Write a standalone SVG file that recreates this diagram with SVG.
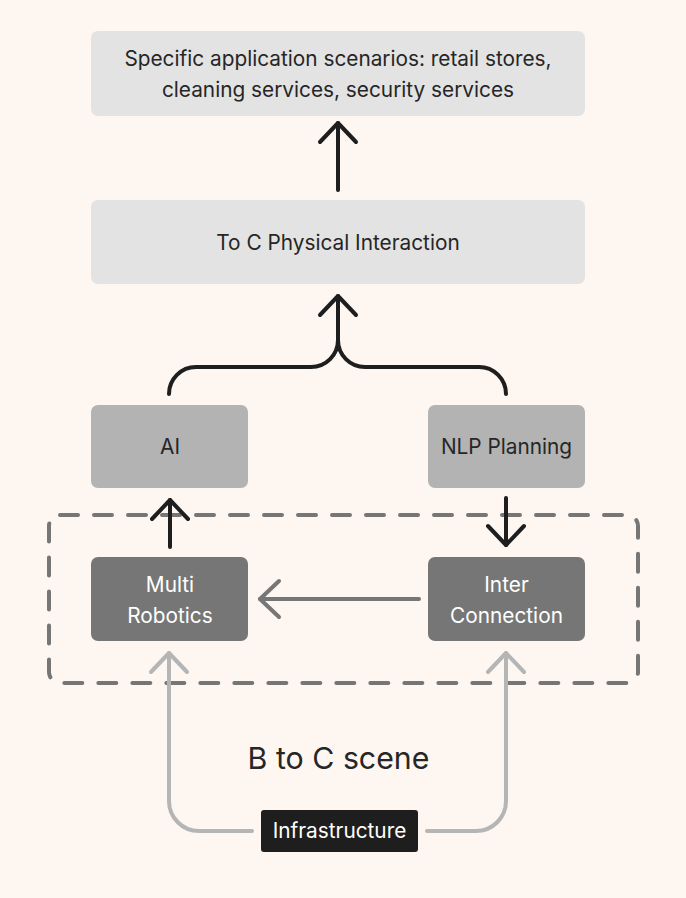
<svg xmlns="http://www.w3.org/2000/svg" width="686" height="898" viewBox="0 0 686 898">
  <style>
    .t { font-family: Inter, "Noto Sans", "Liberation Sans", sans-serif; font-size: 20.8px; text-anchor: middle; }
    .dk { fill: #262626; }
    .wh { fill: #ffffff; }
    .c { fill: none; stroke-width: 4; stroke-linecap: round; stroke-linejoin: round; }
    .blk { stroke: #1e1e1e; }
    .gry { stroke: #767676; }
    .lgt { stroke: #b5b5b5; }
  </style>
  <defs>
    <marker id="ab" markerUnits="userSpaceOnUse" markerWidth="30" markerHeight="44" refX="22" refY="22" orient="auto" overflow="visible">
      <path d="M3,4 L22,22 L3,40" fill="none" stroke="#1e1e1e" stroke-width="4" stroke-linecap="round" stroke-linejoin="round"/>
    </marker>
    <marker id="ag" markerUnits="userSpaceOnUse" markerWidth="30" markerHeight="44" refX="22" refY="22" orient="auto" overflow="visible">
      <path d="M3,4 L22,22 L3,40" fill="none" stroke="#767676" stroke-width="4" stroke-linecap="round" stroke-linejoin="round"/>
    </marker>
    <marker id="al" markerUnits="userSpaceOnUse" markerWidth="30" markerHeight="44" refX="22" refY="22" orient="auto" overflow="visible">
      <path d="M3,4 L22,22 L3,40" fill="none" stroke="#b5b5b5" stroke-width="4" stroke-linecap="round" stroke-linejoin="round"/>
    </marker>
  </defs>
  <rect x="0" y="0" width="686" height="898" fill="#fdf6f1"/>

  <g id="container">
    <rect x="49" y="515" width="589" height="168" rx="11" fill="none" stroke="#767676" stroke-width="4" stroke-dasharray="18 16" stroke-linecap="round"/>
    <text class="t dk" x="338.5" y="769" style="font-size:30.3px">B to C scene</text>
  </g>

  <g id="scenarios">
    <rect x="91" y="31" width="494" height="85" rx="7" fill="#e3e3e3"/>
    <text class="t dk" x="338" y="66">Specific application scenarios: retail stores,</text>
    <text class="t dk" x="338" y="97">cleaning services, security services</text>
  </g>
  <g id="toc">
    <rect x="91" y="200" width="494" height="84" rx="7" fill="#e3e3e3"/>
    <text class="t dk" x="338" y="249.5">To C Physical Interaction</text>
  </g>
  <g id="ai">
    <rect x="91" y="405" width="157" height="83" rx="7" fill="#b3b3b3"/>
    <text class="t dk" x="170" y="454">AI</text>
  </g>
  <g id="nlp">
    <rect x="428" y="405" width="157" height="83" rx="7" fill="#b3b3b3"/>
    <text class="t dk" x="506.5" y="454">NLP Planning</text>
  </g>
  <g id="multi">
    <rect x="91" y="557" width="157" height="84" rx="7" fill="#767676"/>
    <text class="t wh" x="170" y="592">Multi</text>
    <text class="t wh" x="170" y="623">Robotics</text>
  </g>
  <g id="inter">
    <rect x="428" y="557" width="157" height="84" rx="7" fill="#767676"/>
    <text class="t wh" x="506.5" y="592">Inter</text>
    <text class="t wh" x="506.5" y="623">Connection</text>
  </g>
  <g id="infra">
    <rect x="261" y="810" width="157" height="42" rx="3" fill="#1e1e1e"/>
    <text class="t wh" x="339.5" y="838">Infrastructure</text>
  </g>

  <g id="connectors">
    <path class="c blk" d="M338,190 V123" marker-end="url(#ab)"/>
    <path class="c blk" d="M169,394 A27,27 0 0 1 196,367 H311 A27,27 0 0 0 338,340 V296" marker-end="url(#ab)"/>
    <path class="c blk" d="M506,394 A27,27 0 0 0 479,367 H365 A27,27 0 0 1 338,340"/>
    <path class="c blk" d="M170,547 V500" marker-end="url(#ab)"/>
    <path class="c blk" d="M506,498 V545" marker-end="url(#ab)"/>
    <path class="c gry" d="M419,599 H260" marker-end="url(#ag)"/>
    <path class="c lgt" d="M252,831 H199 A30,30 0 0 1 169,801 V653" marker-end="url(#al)"/>
    <path class="c lgt" d="M427,831 H476 A30,30 0 0 0 506,801 V653" marker-end="url(#al)"/>
  </g>
</svg>
